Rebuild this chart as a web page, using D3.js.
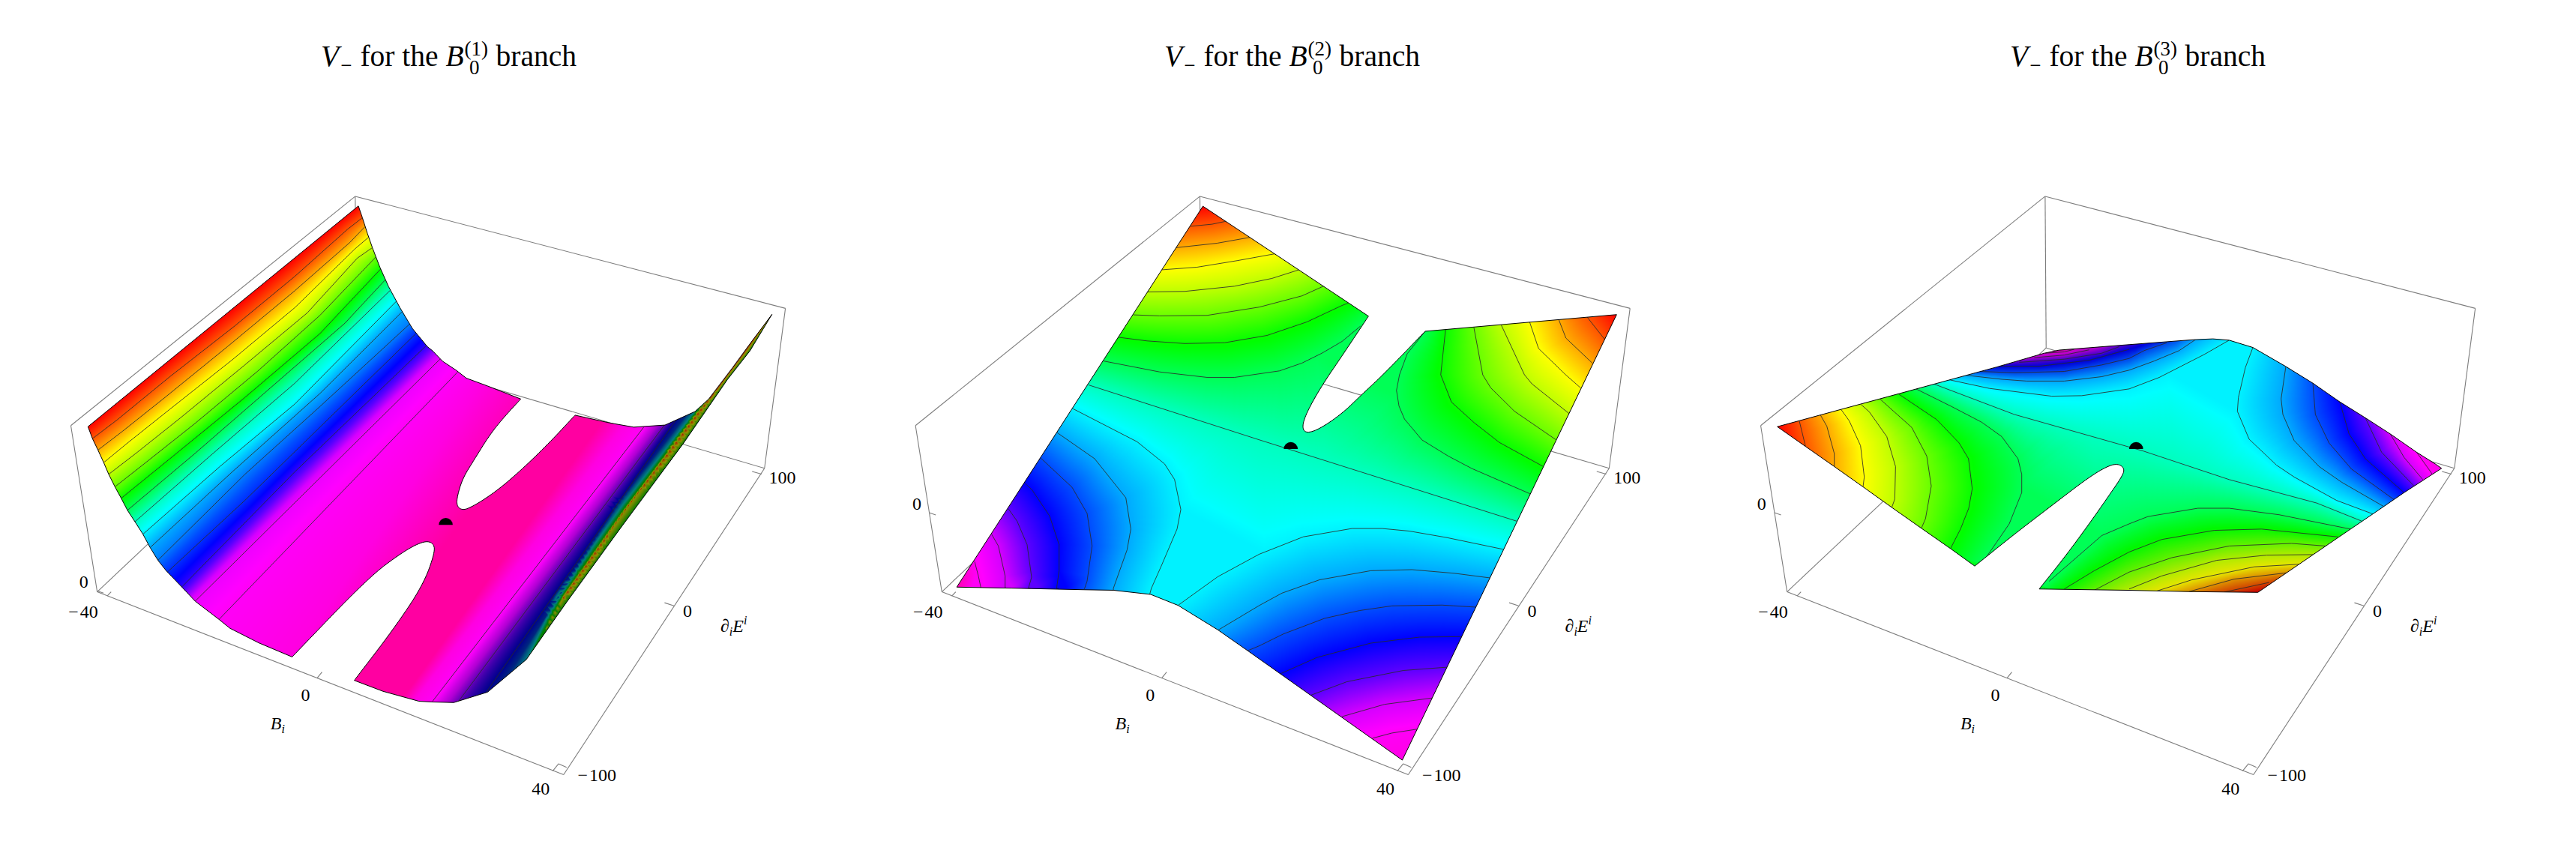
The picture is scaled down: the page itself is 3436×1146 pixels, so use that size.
<!DOCTYPE html>
<html><head><meta charset="utf-8">
<script src="https://cdnjs.cloudflare.com/ajax/libs/d3/7.8.5/d3.min.js"></script>
<style>html,body{margin:0;background:#fff}svg{display:block}text{font-family:"Liberation Serif",serif;fill:#000}</style>
</head><body><svg id="c" width="3436" height="1146"></svg>
<script>
// Projected readings: a sheet turns a list of readings into picture-plane pairs.
const sheet=(bx,by,kx=.5026,ky=.5)=>(...a)=>{const o=[];for(let i=0;i<a.length;i+=2)o.push([bx+kx*a[i],by+ky*a[i+1]]);return o;};
const F=sheet(0,0,1,1);
const A1=sheet(0,316.5),B1=sheet(779.5,549.5),A2=sheet(135.7,316.5),B2=sheet(753.9,690.5),A3=sheet(0,546.6),B3=sheet(784,546.6);
// rounds the slit outlines, which are smooth curves in the picture
const round=(pts,n=3)=>{let p=pts;for(let k=0;k<n;k++){const o=[p[0]];for(let i=0;i<p.length-1;i++){o.push([.75*p[i][0]+.25*p[i+1][0],.75*p[i][1]+.25*p[i+1][1]],[.25*p[i][0]+.75*p[i+1][0],.25*p[i][1]+.75*p[i+1][1]]);}o.push(p[p.length-1]);p=o;}return p;};

const titles=["1","2","3"];
const panelOrigin=[60,1180,2320];
const boxShift=[0,10,-9];
const titleStart=[428,1553,2681];
const levels=[0,1,2,3,4,5,6,7,8,9,10,11,12,13,14,15,16];
const hues=[322,302,290,262,240,222,200,183,165,140,118,95,75,60,40,20,0];

// each contour: [level V, shade, polyline]
const outline1=[...A1(1254,100,1270,145,1290,205,1310,260,1340,335,1375,410,1420,490,1470,570,1530,640),
 ...B1(0,190,40,230,95,265,135,295,220,325),
 ...round(B1(353,375,290,440,230,510,165,610,120,680,98,750,97,785,115,800,140,797,200,765,280,710,380,625,480,530,570,437)),
 ...B1(710,467,805,483,930,475,1050,423,1105,375,1200,255,1280,150,1358,50,1270,190,1180,300,1000,550,760,860,540,1150,470,1245,375,1375,220,1500,85,1540,0,1538),
 ...F(752,1317,680,1298),
 ...round(F(622,1277,700,1180,760,1095,785,1030,780,1012,760,1010,720,1030,650,1080,497,1232)),
 ...F(430,1205,372,1177,350,1160,302,1125),
 ...A1(550,1565,485,1500,452,1460,420,1410,392,1360,360,1312,330,1268,305,1222,280,1178,255,1130,235,1085,212,1037,190,993,172,947)];
const contours1=[
 [15,1,A1(190,993,290,920,500,755,760,560,1000,370,1210,190,1270,145)],
 [14,1,A1(212,1037,310,965,480,835,730,640,1000,425,1220,240,1280,180)],
 [13,1,A1(235,1085,330,1010,500,880,750,690,1000,490,1240,265,1295,220)],
 [12,1,A1(255,1130,370,1045,540,915,800,710,1050,510,1250,300,1310,260)],
 [11,1,A1(280,1178,390,1095,600,935,850,735,1100,520,1270,350,1325,295)],
 [10,1,A1(305,1222,500,1070,800,835,1100,590,1345,340)],
 [9,1,A1(330,1268,600,1050,900,800,1200,550,1362,383)],
 [8,1,A1(360,1312,660,1060,1000,780,1380,425)],
 [7,1,A1(392,1360,700,1100,1000,860,1410,462)],
 [6,1,A1(422,1410,750,1120,1100,820,1430,505)],
 [5.5,1,A1(452,1460,800,1130,1100,870,1465,548)],
 [4.6,1,A1(490,1505,800,1230,1484,590)],
 [3.5,1,A1(545,1565,1000,1120,1530,632)],
 [1.5,1,F(302,1125,795,660)],
 [1,1,F(350,1160,830,685)],
 [1,1,B1(845,483,0,1535)],
 [2.6,.72,B1(930,472,100,1540)],
 [4,.55,B1(972,458,215,1500)]
];
const guides1=[
 [16,1,A1(172,947,1254,100)],
 [.75,1,F(880,707,497,1232)],
 [0,1,F(1000,760,610,1270)],
 [0,1,F(1120,780,720,1310)],
 [.75,1,B1(770,470,-70,1530)],
 [5,.5,B1(1020,430,740,780,300,1440)],
 [7,.5,B1(1045,425,760,780,500,1130,375,1375)],
 [10,.5,B1(1090,385,770,790,520,1130,420,1310)],
 [13,.55,B1(1105,375,775,800,530,1125,470,1230)],
 [15.5,.65,B1(1358,50,1110,370,1000,510,760,815,540,1115)],
 [10,.5,B1(1358,50,1270,190,1180,300,1000,550,760,860,540,1150,470,1245)]
];

const outline2=[...F(640,367),...round(F(973,578,920,654,880,710,850,760,839,790,847,803,874,795,920,765,960,728,1003,690,1087,607)),...F(1472,575,1041,1430,730,1220,670,1180,590,1133,535,1112,460,1104,400,1103,255,1100,145,1098)];
const contours2=[
 [15,1,A2(955,178,1040,170,1100,158)],
 [14,1,A2(897,260,1060,243,1195,220)],
 [13,1,A2(840,345,980,335,1140,310,1295,283)],
 [12,1,A2(782,430,930,428,1130,408,1280,378,1388,345)],
 [11,1,A2(725,518,830,522,1020,520,1230,488,1400,445,1488,407)],
 [10,1,[...A2(665,604,780,618,930,628,1090,625,1260,597,1420,545,1560,482),...F(932,553)]],
 [9,1,[...A2(605,695,830,737,1020,758,1130,758,1310,733,1400,703,1480,665,1560,620),...F(957,597)]],
 [8,1,[...F(410,710),...B2(0,250,1033,563)]],
 [7,1,[...A2(483,878,740,1005,850,1090,890,1150,915,1265,900,1340,840,1475,797,1568),...F(533,1112)]],
 [6,1,[...A2(420,970,570,1070,695,1220,715,1340,700,1420,645,1568),...F(460,1104)]],
 [5,1,[...A2(355,1068,480,1180,540,1280,560,1405,540,1540,530,1568),...F(400,1103)]],
 [4,1,[...A2(290,1163,320,1190,390,1290,428,1400,428,1500,418,1568),...F(350,1100)]],
 [3,1,[...A2(225,1262,260,1310,300,1400,318,1525,305,1568),...F(293,1100)]],
 [2,1,[...A2(158,1360,185,1405,212,1520,212,1565),...F(243,1099)]],
 [1,1,[...A2(90,1465,105,1520,115,1565),...F(192,1099)]],
 [7,1,[...F(590,1133,670,1078,753,1035),...B2(175,622,370,590,490,590,600,600,750,625,975,670)]],
 [6,1,[...F(668,1182),...B2(0,885,90,838,240,787,445,752,610,748,780,762,925,780)]],
 [5,1,[...F(730,1220),...B2(0,1040,95,995,260,935,400,905,530,887,730,884,868,892)]],
 [4,1,B2(85,1147,230,1085,445,1030,640,1007,810,1005)],
 [3,1,B2(205,1230,350,1178,575,1135,755,1122)],
 [2,1,B2(330,1312,500,1265,695,1240)],
 [1,1,B2(452,1395,530,1375,632,1360)],
 [9,1,[...F(1087,607,1051,650),...B2(560,0,548,60,558,120,580,170,650,250,755,312,850,360,1083,457)]],
 [10,1,[...F(1128,604),...B2(725,0,768,105,860,185,960,260,1135,352)]],
 [11,1,[...F(1185,600),...B2(893,0,925,50,1020,140,1187,250)]],
 [12,1,[...F(1240,595),...B2(1060,0,1090,35,1240,150)]],
 [13,1,F(1297,589,1315,640,1369,690,1400,716)],
 [14,1,F(1355,583,1370,620,1423,668)],
 [15,1,F(1413,580,1450,625)]
];
const guides2=[
 [16,1,F(640,367)],[16,1,F(1472,575)],[.2,1,F(145,1098)],[.8,1,F(1041,1430)]
];

const outline3=[...A3(152,487,640,360,1030,258,1220,205,1280,193,1560,172),
 ...B3(260,153,335,150,400,155,495,183,625,255,735,320,840,390,945,453,1045,515,1150,585,1225,630,1250,647,1100,740,975,822,840,910,680,1015,515,1123,240,1120,0,1115),
 ...round(A3(1200,1110,1300,990,1400,860,1480,750,1530,680,1542,650,1520,630,1480,635,1400,680,1250,790,1100,900,942,1022)),
 ...A3(845,955,730,878,610,797,495,718,380,640,265,563)];
const contours3=[
 [15,1,A3(240,465,265,563)],
 [14,1,A3(325,443,350,485,380,590,380,640)],
 [13,1,A3(408,422,440,465,485,560,500,680,495,718)],
 [12,1,A3(487,402,520,430,590,525,625,640,622,765,610,797)],
 [11,1,A3(562,380,620,430,690,490,750,600,768,715,745,840,728,878)],
 [10,1,A3(635,360,790,460,880,550,917,610,932,725,918,800,885,880,845,955)],
 [9,1,A3(707,342,850,410,970,470,1050,525,1115,610,1130,670,1130,740,1080,860,1030,930,990,985)],
 [8,1,[...A3(778,323,1100,440),...B3(55,580,400,690,750,780,932,850)]],
 [7,1,[...A3(840,307,1000,340,1250,370,1370,368,1560,342),...B3(120,298,300,210,400,155)]],
 [6,1,[...A3(910,290,1050,305,1150,312,1300,312,1450,295,1560,270),...B3(100,235,200,195,265,153)]],
 [5,.92,[...A3(965,275,1100,280,1300,275,1450,250,1560,225),...B3(60,195,150,165)]],
 [4,.85,A3(1040,255,1200,255,1400,232,1560,190)],
 [3,.8,A3(1120,240,1300,228,1450,205,1520,180)],
 [2,.8,A3(1180,222,1300,212,1400,192)],
 [1,.8,A3(1225,205,1300,200,1340,190)],
 [7,1,B3(495,183,465,260,437,375,433,428,480,535,590,635,660,680,830,770,975,822)],
 [6,1,B3(627,255,608,380,615,440,660,540,760,640,850,700,1018,793)],
 [5,1,B3(735,320,745,440,800,550,890,650,1060,767)],
 [4,1,B3(842,390,880,515,945,610,1100,740)],
 [3,1,B3(945,453,1010,585,1140,715)],
 [2,1,B3(1045,515,1100,605,1175,690)],
 [1,1,B3(1150,585,1212,668)],
 [9,1,[...A3(1240,1080,1450,905),...B3(0,860,75,832,275,800,400,800,600,825,885,880)]],
 [10,.97,[...A3(1300,1110,1420,1040),...B3(0,968,130,920,340,885,530,880,835,910)]],
 [11,.94,[...A3(1420,1115),...B3(0,1045,170,990,400,945,650,935,785,945)]],
 [12,.92,B3(0,1110,130,1060,350,1000,550,980,735,978)],
 [13,.9,B3(110,1118,250,1075,500,1025,680,1015)],
 [14,.87,B3(240,1120,420,1072,630,1048)],
 [15,.82,B3(380,1122,560,1085)]
];
const guides3=[
 [16,1,A3(152,487)],[16,.78,B3(515,1123)],[.8,1,B3(1250,647)],[.4,.75,A3(1250,197)]
];

const outlines=[outline1,outline2,outline3];
const contourSets=[contours1,contours2,contours3];
const guideSets=[guides1,guides2,guides3];
const saddle=[[806,978.5],[816.7,833],[798,833]];

// box in the picture plane (shift applied per panel)
const box={top:[624,348],left:[52,788],leftLow:[105,1107],front:[1043,1458],rightLow:[1447,870],right:[1489,563],back:[626,639]};
const boxEdges=[["top","left"],["top","right"],["left","leftLow"],["right","rightLow"],["leftLow","front"],["front","rightLow"],["top","back"],["back","leftLow"],["back","rightLow"]];
const bTicks=[-40,0,40], eTicks=[-100,0,100];
const bTickLabels=["\u2212\u200a40","0","40"], eTickLabels=["\u2212\u200a100","0","100"];
const bStartX=[125,547,1021],bStartY=[1115,1273,1451],bEndX=[133,557,1033],bEndY=[1107,1261,1437],bLabX=[77,524,997],bLabY=[1145,1305,1485];
const eStartX=[1049,1265,1441],eStartY=[1444,1134,881],eEndX=[1033,1246,1422],eEndY=[1437,1128,876],eLabX=[1110,1292,1483],eLabY=[1458,1143,888];
const zDomains=[[-.6,100],[-1,1.1],[-1,1.1]];
const zLabel=[[78,1088],[65,938],[45,938]];

const W=1040,H=1090;
const svg=d3.select("#c");
const hueScale=d3.scaleLinear().domain(levels).range(hues).clamp(true);
const LUTN=2048,lut=new Uint8Array(LUTN*3);
for(let i=0;i<LUTN;i++){const c=d3.hsl(hueScale(i/(LUTN-1)*16),1,.5).rgb();lut[3*i]=c.r;lut[3*i+1]=c.g;lut[3*i+2]=c.b;}

function raster(cs,gs,outlinePts,x,y,ox){
 const X=[],Y=[],V=[],S=[];
 const add=(px,py,v,s)=>{X.push(px);Y.push(py);V.push(v);S.push(s);};
 [...cs,...gs].forEach(([v,s,pl])=>{
  const p=pl.map(d=>[x(d[0])-ox,y(d[1])-20]);
  if(p.length==1){add(p[0][0],p[0][1],v,s);return;}
  const n=p.length;
  const ext=(a,b)=>{const dx=a[0]-b[0],dy=a[1]-b[1],l=Math.hypot(dx,dy)||1;add(a[0]+dx/l*10,a[1]+dy/l*10,v,s);};
  ext(p[0],p[1]);ext(p[n-1],p[n-2]);
  for(let i=0;i<n-1;i++){
   const L=Math.hypot(p[i+1][0]-p[i][0],p[i+1][1]-p[i][1]),m=Math.max(1,Math.round(L/7));
   for(let k=0;k<m;k++){add(p[i][0]+(p[i+1][0]-p[i][0])*k/m,p[i][1]+(p[i+1][1]-p[i][1])*k/m,v,s);}
  }
  add(p[n-1][0],p[n-1][1],v,s);
 });
 const flat=new Float64Array(X.length*2);X.forEach((d,i)=>{flat[2*i]=d;flat[2*i+1]=Y[i];});
 const del=new d3.Delaunay(flat),T=del.triangles;
 const cv=document.createElement("canvas");cv.width=W;cv.height=H;
 const ctx=cv.getContext("2d"),im=ctx.createImageData(W,H),D=im.data;
 const put=(i,v,s)=>{let k=Math.round(v/16*(LUTN-1));k=k<0?0:k>=LUTN?LUTN-1:k;D[i]=lut[3*k]*s;D[i+1]=lut[3*k+1]*s;D[i+2]=lut[3*k+2]*s;D[i+3]=255;};
 for(let t=0;t<T.length;t+=3){
  const a=T[t],b=T[t+1],c=T[t+2];
  const x0=X[a],y0=Y[a],x1=X[b],y1=Y[b],x2=X[c],y2=Y[c];
  const den=(y1-y2)*(x0-x2)+(x2-x1)*(y0-y2);if(Math.abs(den)<1e-9)continue;
  const mnx=Math.max(0,Math.floor(Math.min(x0,x1,x2))),mxx=Math.min(W-1,Math.ceil(Math.max(x0,x1,x2)));
  const mny=Math.max(0,Math.floor(Math.min(y0,y1,y2))),mxy=Math.min(H-1,Math.ceil(Math.max(y0,y1,y2)));
  for(let py=mny;py<=mxy;py++)for(let px=mnx;px<=mxx;px++){
   const fx=px+.5,fy=py+.5;
   const l0=((y1-y2)*(fx-x2)+(x2-x1)*(fy-y2))/den,l1=((y2-y0)*(fx-x2)+(x0-x2)*(fy-y2))/den,l2=1-l0-l1;
   if(l0<-.001||l1<-.001||l2<-.001)continue;
   put((py*W+px)*4,l0*V[a]+l1*V[b]+l2*V[c],l0*S[a]+l1*S[b]+l2*S[c]);
  }
 }
 // pixels outside the triangulated hull take the nearest reading
 const ob=outlinePts.map(d=>[x(d[0])-ox,y(d[1])-20]);
 const bx0=Math.max(0,Math.floor(d3.min(ob,d=>d[0]))-3),bx1=Math.min(W-1,Math.ceil(d3.max(ob,d=>d[0]))+3),by0=Math.max(0,Math.floor(d3.min(ob,d=>d[1]))-3),by1=Math.min(H-1,Math.ceil(d3.max(ob,d=>d[1]))+3);
 let hint=0;
 for(let py=by0;py<=by1;py++)for(let px=bx0;px<=bx1;px++){
  const i=(py*W+px)*4;if(D[i+3])continue;
  hint=del.find(px+.5,py+.5,hint);put(i,V[hint],S[hint]);
 }
 ctx.putImageData(im,0,0);
 return cv.toDataURL("image/png");
}

panelOrigin.forEach((ox,p)=>{
 const x=d3.scaleLinear().domain([0,1568]).range([ox,ox+1040]);
 const y=d3.scaleLinear().domain([0,1568]).range([20,1110]);
 const sh=boxShift[p];
 const line=d3.line().x(d=>x(d[0])).y(d=>y(d[1]));
 const shifted=d=>[d[0]+sh,d[1]];
 const g=svg.append("g");
 // box
 g.selectAll(null).data(boxEdges).join("path")
  .attr("d",e=>line([shifted(box[e[0]]),shifted(box[e[1]])]))
  .attr("fill","none").attr("stroke","#7d7d7d").attr("stroke-width",1.1);
 // ticks
 const tick=(vals,sx,sy,ex,ey)=>{
  const ax=d3.scaleLinear().domain(vals).range(sx),ay=d3.scaleLinear().domain(vals).range(sy),
        bx=d3.scaleLinear().domain(vals).range(ex),by=d3.scaleLinear().domain(vals).range(ey);
  g.selectAll(null).data(vals).join("path")
   .attr("d",v=>line([shifted([ax(v),ay(v)]),shifted([bx(v),by(v)])]))
   .attr("fill","none").attr("stroke","#7d7d7d").attr("stroke-width",1.1);
 };
 tick(bTicks,bStartX,bStartY,bEndX,bEndY);
 tick(eTicks,eStartX,eStartY,eEndX,eEndY);
 const zt=d3.scaleLinear().domain(zDomains[p]).range([0,1])(0);
 const zx=box.leftLow[0]+(box.left[0]-box.leftLow[0])*zt,zy=box.leftLow[1]+(box.left[1]-box.leftLow[1])*zt;
 g.append("path").attr("d",line([shifted([zx,zy]),shifted([zx+13,zy+4.5])])).attr("fill","none").attr("stroke","#7d7d7d").attr("stroke-width",1.1);

 // surface
 const cid="clip"+p;
 const closed=line(outlines[p])+"Z";
 svg.append("clipPath").attr("id",cid).append("path").attr("d",closed);
 const href=raster(contourSets[p],guideSets[p],outlines[p],x,y,ox);
 const s=svg.append("g");
 s.append("image").attr("x",ox).attr("y",20).attr("width",W).attr("height",H).attr("href",href).attr("clip-path",`url(#${cid})`);
 s.append("g").attr("clip-path",`url(#${cid})`).selectAll("path").data(contourSets[p]).join("path")
  .attr("d",d=>line(d[2])).attr("fill","none").attr("stroke","#2a2a2a").attr("stroke-width",1).attr("stroke-opacity",.85);
 s.append("path").attr("d",closed).attr("fill","none").attr("stroke","#000").attr("stroke-width",1).attr("stroke-linejoin","round");
 // saddle marker
 const arc=d3.arc().innerRadius(0).outerRadius(9.3).startAngle(-Math.PI/2).endAngle(Math.PI/2);
 s.append("path").attr("d",arc()).attr("fill","#000").attr("transform",`translate(${x(saddle[p][0])},${y(saddle[p][1])})`);

 // labels
 const label=(txt,pos,size=24)=>g.append("text").attr("x",x(pos[0])).attr("y",y(pos[1])).attr("dy",".34em").attr("text-anchor","middle").attr("font-size",size).text(txt);
 bTicks.forEach((v,i)=>label(bTickLabels[i],[bLabX[i]+sh,bLabY[i]]));
 eTicks.forEach((v,i)=>label(eTickLabels[i],[eLabX[i]+sh,eLabY[i]]));
 label("0",zLabel[p]);
 const bi=g.append("text").attr("x",x(468+sh)).attr("y",y(1371)).attr("text-anchor","middle").attr("font-size",24).attr("font-style","italic");
 bi.append("tspan").text("B");bi.append("tspan").attr("font-size",16).attr("dy",5).text("i");
 const de=g.append("text").attr("x",x(1385+sh)).attr("y",y(1184)).attr("text-anchor","middle").attr("font-size",24).attr("font-style","italic");
 de.append("tspan").text("\u2202");de.append("tspan").attr("font-size",16).attr("dy",5).text("i");
 de.append("tspan").attr("dy",-5).text("E");de.append("tspan").attr("font-size",16).attr("dy",-10).text("i");

 // title
 const t=g.append("text").attr("x",titleStart[p]).attr("y",88).attr("font-size",39.5);
 t.append("tspan").attr("font-style","italic").text("V");
 t.append("tspan").attr("font-size",27).attr("dy",8).attr("dx",2).text("\u2212");
 t.append("tspan").attr("dy",-8).attr("dx",11).text("for the ");
 t.append("tspan").attr("font-style","italic").text("B");
 t.append("tspan").attr("font-size",27).attr("dy",-14).attr("dx",1).text("("+titles[p]+")");
 t.append("tspan").attr("font-size",27).attr("dy",25).attr("dx",-25).text("0");
 t.append("tspan").attr("dy",-11).attr("dx",22).text("branch");
});
</script></body></html>
